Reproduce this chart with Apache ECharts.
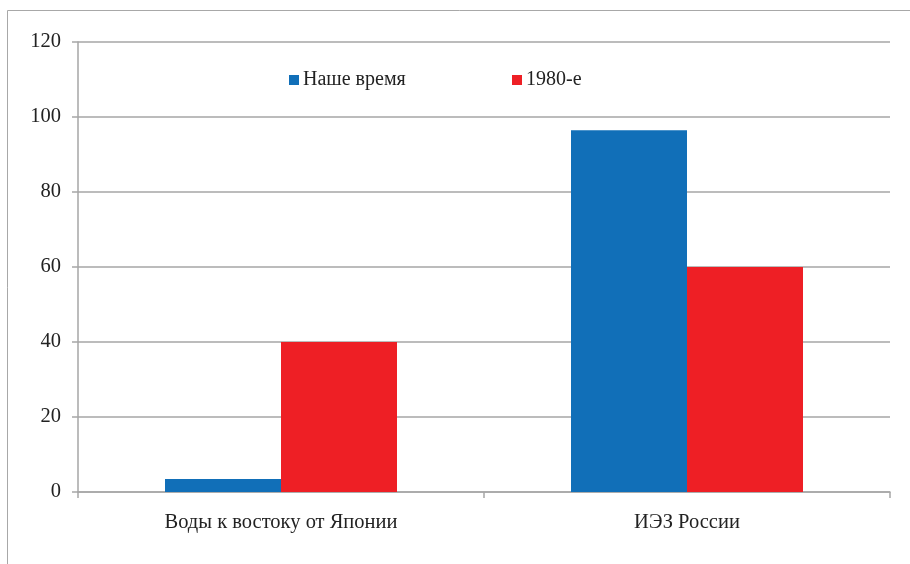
<!DOCTYPE html>
<html>
<head>
<meta charset="utf-8">
<script src="https://cdn.jsdelivr.net/npm/echarts@6/dist/echarts.min.js"></script>
<style>
  html, body { margin: 0; padding: 0; background: #fff; }
  #chart { width: 910px; height: 564px; }
</style>
</head>
<body>
<div id="chart"></div>
<script>
// Categories and series values
const categories = ['Воды к востоку от Японии', 'ИЭЗ России'];
const seriesNames = ['Наше время', '1980-е'];
const modernValues = [3.5, 96.5];
const eightiesValues = [40, 60];
const yTicks = [0, 20, 40, 60, 80, 100, 120];

const FONT = 'Liberation Serif';
const AXIS_GRAY = '#a6a6a6';
const TEXT = '#222222';

const chart = echarts.init(document.getElementById('chart'), null, { renderer: 'canvas' });

const legendText = { fontFamily: FONT, fontSize: 20, color: TEXT, padding: [0, 0, 0, -1] };

chart.setOption({
  backgroundColor: '#ffffff',
  animation: false,
  textStyle: { fontFamily: FONT, color: TEXT },
  // thin frame around the chart area
  graphic: [{
    type: 'rect',
    shape: { x: 7.5, y: 10.5, width: 1000, height: 1000 },
    style: { fill: 'none', stroke: '#a8a8a8', lineWidth: 1 },
    silent: true
  }],
  legend: [
    {
      data: [seriesNames[0]],
      left: 284, top: 65,
      padding: 5,
      itemWidth: 10, itemHeight: 10,
      icon: 'rect',
      textStyle: legendText
    },
    {
      data: [seriesNames[1]],
      left: 507, top: 65,
      padding: 5,
      itemWidth: 10, itemHeight: 10,
      icon: 'rect',
      textStyle: legendText
    }
  ],
  grid: { left: 78, right: 20, top: 42, bottom: 72, containLabel: false },
  xAxis: {
    type: 'category',
    data: categories,
    axisLine: { lineStyle: { color: AXIS_GRAY, width: 1.5 } },
    axisTick: { show: true, length: 6, lineStyle: { color: AXIS_GRAY, width: 1.5 } },
    axisLabel: { fontFamily: FONT, fontSize: 20.5, color: TEXT, margin: 20 }
  },
  yAxis: {
    type: 'value',
    min: 0, max: 120, interval: 20,
    axisLine: { show: true, lineStyle: { color: AXIS_GRAY, width: 1.5 } },
    axisTick: { show: true, length: 6, lineStyle: { color: AXIS_GRAY, width: 1.5 } },
    splitLine: { lineStyle: { color: AXIS_GRAY, width: 1.5 } },
    axisLabel: {
      fontFamily: FONT, fontSize: 20.5, color: TEXT, margin: 17,
      formatter: v => yTicks.includes(v) ? String(v) : ''
    }
  },
  series: [
    {
      name: seriesNames[0],
      type: 'bar',
      data: modernValues,
      barWidth: 116,
      barGap: '0%',
      itemStyle: { color: '#116fb8' }
    },
    {
      name: seriesNames[1],
      type: 'bar',
      data: eightiesValues,
      barWidth: 116,
      barGap: '0%',
      itemStyle: { color: '#ee1f25' }
    }
  ]
});
</script>
</body>
</html>
